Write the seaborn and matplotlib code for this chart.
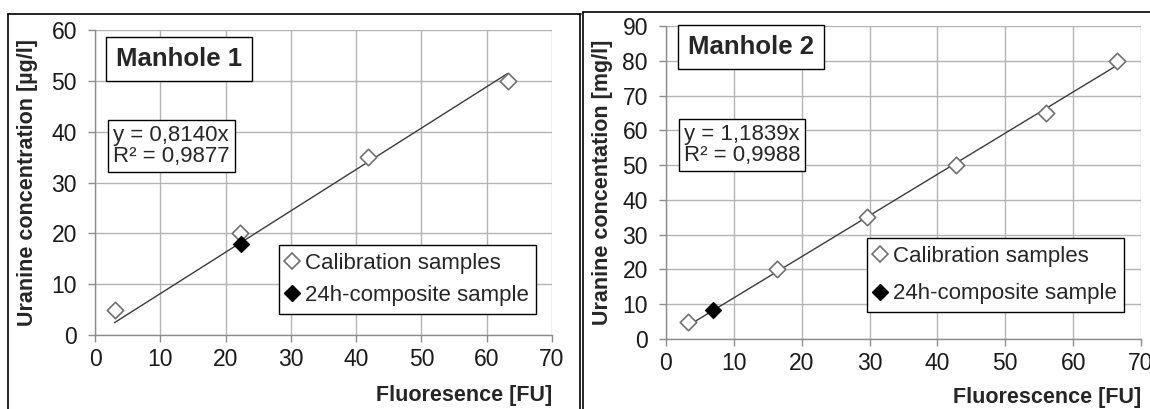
import matplotlib
matplotlib.use("Agg")
import matplotlib.pyplot as plt
import seaborn as sns
import numpy as np
from matplotlib.lines import Line2D

# ---- data ----
m1_cal_x = [3.0, 22.2, 41.8, 63.2]
m1_cal_y = [5, 20, 35, 50]
m1_comp_x = [22.4]
m1_comp_y = [18]
m1_slope = 0.8140
m1_eq = "y = 0,8140x\nR² = 0,9877"

m2_cal_x = [3.2, 16.4, 29.6, 42.8, 56.0, 66.4]
m2_cal_y = [5, 20, 35, 50, 65, 80]
m2_comp_x = [6.9]
m2_comp_y = [8.3]
m2_slope = 1.1839
m2_eq = "y = 1,1839x\nR² = 0,9988"

sns.set_theme(style="white")
plt.rcParams['font.family'] = ['Liberation Sans', 'DejaVu Sans']

W, H = 1150, 409
fig = plt.figure(figsize=(W / 100, H / 100), dpi=100)

def fx(p):
    return p / W

def fy(p):
    return 1 - p / H

ax1 = fig.add_axes([fx(95), fy(335), fx(552 - 95), (335 - 30) / H])
ax2 = fig.add_axes([fx(666), fy(339), fx(1141 - 666), (339 - 26) / H])

def draw(ax, cx, cy, px, py, slope, eq, title, ylabel, xlabel, ymax, ystep,
         title_xy, eq_xy, leg_anchor, ylab_x, xlab_y, lab_sp):
    ax.set_facecolor("white")
    xs = np.array([min(cx), max(cx)])
    sns.lineplot(x=xs, y=slope * xs, ax=ax, color="#3a3a3a", lw=1.0, zorder=3)
    sns.scatterplot(x=cx, y=cy, ax=ax, marker="D", s=70, facecolor="white",
                    edgecolor="#707070", linewidth=1.2, zorder=4)
    sns.scatterplot(x=px, y=py, ax=ax, marker="D", s=70, color="black",
                    edgecolor="black", zorder=5)
    ax.set_xlim(0, 70)
    ax.set_ylim(0, ymax)
    ax.set_xticks(np.arange(0, 71, 10))
    ax.set_yticks(np.arange(0, ymax + 1, ystep))
    ax.grid(True, color="#b4b4b4", lw=1.0)
    ax.set_axisbelow(True)
    for s in ["top", "right"]:
        ax.spines[s].set_visible(False)
    for s in ["left", "bottom"]:
        ax.spines[s].set_color("#8c8c8c")
        ax.spines[s].set_linewidth(1.0)
    ax.tick_params(axis="both", which="major", labelsize=16.5, length=5,
                   width=1, color="#8c8c8c", direction="out",
                   left=True, bottom=True, labelcolor="#1a1a1a")
    ax.tick_params(axis="y", pad=8)
    ax.tick_params(axis="x", pad=4)
    ax.set_ylabel(ylabel, fontsize=15.5, fontweight="bold")
    ax.yaxis.set_label_coords(ylab_x, 0.5)
    ax.set_xlabel(xlabel, fontsize=15.5, fontweight="bold")
    ax.xaxis.set_label_coords(1.0, xlab_y)
    ax.xaxis.label.set_horizontalalignment("right")
    ax.xaxis.label.set_verticalalignment("center")
    ax.text(title_xy[0], title_xy[1], title, transform=ax.transAxes,
            fontsize=18.5, fontweight="bold", ha="left", va="center",
            bbox=dict(boxstyle="square,pad=0.4", fc="white", ec="black", lw=1.0),
            zorder=6)
    ax.text(eq_xy[0], eq_xy[1], eq, transform=ax.transAxes,
            fontsize=16, ha="left", va="center", linespacing=1.05,
            bbox=dict(boxstyle="square,pad=0.22", fc="white", ec="black", lw=1.0),
            zorder=6)
    handles = [
        Line2D([], [], marker="D", ls="none", markersize=8,
               markerfacecolor="white", markeredgecolor="#707070", markeredgewidth=1.2),
        Line2D([], [], marker="D", ls="none", markersize=8,
               markerfacecolor="black", markeredgecolor="black"),
    ]
    leg = ax.legend(handles, ["Calibration samples", "24h-composite sample"],
                    loc="upper left", bbox_to_anchor=leg_anchor, fontsize=16,
                    frameon=True, fancybox=False, edgecolor="black",
                    handlelength=0.5, handletextpad=0.3, borderpad=0.35,
                    labelspacing=lab_sp, borderaxespad=0)
    leg.get_frame().set_linewidth(1.0)
    leg.get_frame().set_alpha(1)

draw(ax1, m1_cal_x, m1_cal_y, m1_comp_x, m1_comp_y, m1_slope, m1_eq,
     "Manhole 1", "Uranine concentration [µg/l]", "Fluoresence [FU]",
     60, 10,
     title_xy=((116 - 95) / 457, 1 - (59 - 30) / 305),
     eq_xy=((113 - 95) / 457, 1 - (146 - 30) / 305),
     leg_anchor=((279 - 95) / 457, 1 - (245 - 30) / 305),
     ylab_x=-(95 - 38) / 457, xlab_y=-(395 - 335) / 305, lab_sp=0.5)

draw(ax2, m2_cal_x, m2_cal_y, m2_comp_x, m2_comp_y, m2_slope, m2_eq,
     "Manhole 2", "Uranine concentation [mg/l]", "Fluorescence [FU]",
     90, 10,
     title_xy=((688 - 666) / 475, 1 - (47 - 26) / 313),
     eq_xy=((684 - 666) / 475, 1 - (145 - 26) / 313),
     leg_anchor=((867 - 666) / 475, 1 - (238 - 26) / 313),
     ylab_x=-(666 - 613) / 475, xlab_y=-(397 - 339) / 313, lab_sp=0.75)

# outer chart frames
fig.add_artist(Line2D([fx(8), fx(8)], [fy(14), 0], color="black", lw=1.2))
fig.add_artist(Line2D([fx(8), fx(581)], [fy(14), fy(14)], color="black", lw=1.2))
fig.add_artist(Line2D([fx(580), fx(580)], [fy(14), 0], color="black", lw=1.2))
fig.add_artist(Line2D([fx(583), fx(583)], [fy(12), 0], color="black", lw=1.2))
fig.add_artist(Line2D([fx(583), 1], [fy(12), fy(12)], color="black", lw=1.2))

fig.savefig("out.png", dpi=100, facecolor="white")
